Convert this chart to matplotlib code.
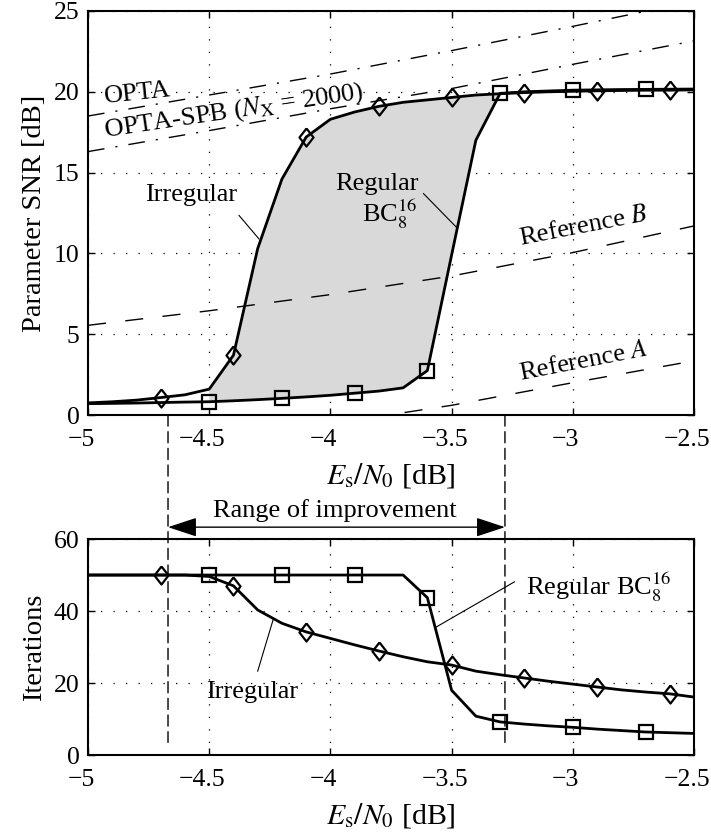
import matplotlib
matplotlib.use("Agg")
import matplotlib.pyplot as plt
import matplotlib.transforms as mtransforms
from matplotlib.patches import ConnectionPatch

plt.rcParams["font.family"] = ["Liberation Serif", "DejaVu Serif"]
plt.rcParams["mathtext.fontset"] = "stix"
plt.rcParams["axes.unicode_minus"] = True

# Es/N0 grid in dB (0.1 dB steps)
esn0 = [-5.0, -4.9, -4.8, -4.7, -4.6, -4.5, -4.4, -4.3, -4.2, -4.1, -4.0, -3.9, -3.8,
        -3.7, -3.6, -3.5, -3.4, -3.3, -3.2, -3.1, -3.0, -2.9, -2.8, -2.7, -2.6, -2.5]

# parameter SNR [dB]
snr_irregular = [0.75, 0.82, 0.92, 1.08, 1.25, 1.6, 3.7, 10.3, 14.6, 17.2, 18.3, 18.75, 19.1,
                 19.35, 19.5, 19.65, 19.8, 19.88, 19.95, 20.0, 20.03, 20.06, 20.08, 20.1, 20.1, 20.12]
snr_regular = [0.7, 0.72, 0.74, 0.77, 0.8, 0.82, 0.88, 0.95, 1.03, 1.12, 1.22, 1.35, 1.48,
               1.68, 2.75, 9.9, 17.0, 19.9, 20.0, 20.05, 20.1, 20.12, 20.14, 20.15, 20.16, 20.17]

# decoder iterations
it_irregular = [50, 50, 50, 50, 50, 49.6, 47, 40.3, 36.6, 34.2, 32.4, 30.6, 28.9,
                27.3, 25.9, 25.0, 23.3, 22.3, 21.4, 20.5, 19.7, 18.9, 18.1, 17.5, 17.0, 16.1]
it_regular = [50, 50, 50, 50, 50, 50, 50, 50, 50, 50, 50, 50, 50,
              50, 43.7, 18.0, 10.8, 9.2, 8.6, 8.1, 7.7, 7.2, 6.8, 6.4, 6.2, 6.0]

# theoretical bounds and references
bound_x = [-5.0, -4.5, -4.0, -3.5, -3.0, -2.5]
opta = [18.5, 19.8, 21.1, 22.55, 24.05, 25.6]
opta_spb = [16.3, 17.6, 18.95, 20.2, 21.7, 23.15]
ref_b = [5.55, 6.45, 7.45, 8.6, 10.05, 11.7]
ref_a_x = [-4.0, -3.5, -3.0, -2.5]
ref_a = [-0.55, 0.6, 2.0, 3.35]

xticks = [-5, -4.5, -4, -3.5, -3, -2.5]
xtick_labels = ["\u22125", "\u22124.5", "\u22124", "\u22123.5", "\u22123", "\u22122.5"]

# range where the irregular code beats the regular one
improve_lo, improve_hi = -4.67, -3.28

diamond = [(0, 1), (0.78, 0), (0, -1), (-0.78, 0), (0, 1)]
grid_style = dict(color="k", linestyle=(0, (1, 9)), linewidth=0.9)
LW = 2.0
FS_TXT = 19

fig = plt.figure(figsize=(7.11, 8.33), dpi=100)
ax1 = fig.add_axes([0.1238, 0.5018, 0.8523, 0.485])
ax2 = fig.add_axes([0.1238, 0.0936, 0.8523, 0.2593])

shift = mtransforms.ScaledTranslation(-0.07, 0, fig.dpi_scale_trans)


def style_axes(ax):
    ax.set_xlim(-5, -2.5)
    ax.set_xticks(xticks)
    ax.set_xticklabels(xtick_labels)
    ax.tick_params(axis="both", direction="in", top=True, right=True, length=5, width=1,
                   labelsize=18.5, pad=6)
    ax.tick_params(axis="x", pad=10)
    for lab in ax.get_xticklabels():
        lab.set_transform(lab.get_transform() + shift)
    for s in ax.spines.values():
        s.set_linewidth(1.5)
    ax.grid(True, **grid_style)
    ax.set_axisbelow(True)
    ax.set_xlabel(r"$E_\mathrm{s}/N_0$ [dB]", fontsize=21.5, labelpad=7)


# ---- top: parameter SNR
style_axes(ax1)
ax1.set_ylim(0, 25)
ax1.set_yticks([0, 5, 10, 15, 20, 25])
ax1.set_ylabel("Parameter SNR [dB]", fontsize=20.5, labelpad=5)

inside = [(-4.5 <= x <= -3.3) for x in esn0]
ax1.fill_between(esn0, snr_regular, snr_irregular, where=inside,
                 facecolor="#d9d9d9", edgecolor="none", zorder=1)

ax1.plot(bound_x, opta, color="k", lw=1.0, linestyle=(0, (12, 8, 1.5, 8)), zorder=2)
ax1.plot(bound_x, opta_spb, color="k", lw=1.0, linestyle=(0, (12, 8, 1.5, 8)), zorder=2)
ax1.plot(bound_x, ref_b, color="k", lw=1.0, linestyle=(0, (13, 14)), zorder=2)
ax1.plot(ref_a_x, ref_a, color="k", lw=1.0, linestyle=(0, (13, 14)), zorder=2)

ax1.plot(esn0, snr_irregular, color="k", lw=LW, marker=diamond, ms=13,
         mfc="none", mew=1.6, markevery=slice(3, None, 3), zorder=3)
ax1.plot(esn0, snr_regular, color="k", lw=LW, marker="s", ms=9.5,
         mfc="none", mew=1.6, markevery=slice(5, None, 3), zorder=3)

ax1.text(-4.93, 19.3, "OPTA", fontsize=FS_TXT, rotation=6, rotation_mode="anchor",
         ha="left", va="baseline")
ax1.text(-4.93, 17.2, r"OPTA-SPB ($N_\mathrm{X}$ = 2000)", fontsize=FS_TXT, rotation=8.5,
         rotation_mode="anchor", ha="left", va="baseline")
ax1.text(-4.574, 13.27, "Irregular", fontsize=FS_TXT, ha="center", va="baseline")
ax1.plot([-4.377, -4.295], [12.35, 10.9], color="k", lw=0.8)
ax1.text(-3.636, 13.9, "Regular", fontsize=FS_TXT, ha="right", va="baseline")
ax1.text(-3.64, 11.93, r"BC$_8^{16}$", fontsize=FS_TXT, ha="right", va="baseline")
ax1.plot([-3.616, -3.479], [13.7, 11.6], color="k", lw=0.8)
ax1.text(-3.215, 10.5, r"Reference $B$", fontsize=FS_TXT, rotation=11,
         rotation_mode="anchor", ha="left", va="baseline")
ax1.text(-3.215, 2.16, r"Reference $A$", fontsize=FS_TXT, rotation=11,
         rotation_mode="anchor", ha="left", va="baseline")

# ---- bottom: iterations
style_axes(ax2)
ax2.set_ylim(0, 60)
ax2.set_yticks([0, 20, 40, 60])
ax2.set_ylabel("Iterations", fontsize=20.5, labelpad=5)

ax2.plot(esn0, it_irregular, color="k", lw=LW, marker=diamond, ms=13,
         mfc="none", mew=1.6, markevery=slice(3, None, 3), zorder=3)
ax2.plot(esn0, it_regular, color="k", lw=LW, marker="s", ms=9.5,
         mfc="none", mew=1.6, markevery=slice(5, None, 3), zorder=3)

ax2.text(-3.194, 44.4, r"Regular BC$_8^{16}$", fontsize=FS_TXT, ha="left", va="baseline")
ax2.plot([-3.241, -3.565], [48.1, 35.5], color="k", lw=0.8)
ax2.text(-4.322, 15.8, "Irregular", fontsize=FS_TXT, ha="center", va="baseline")
ax2.plot([-4.30, -4.235], [23.3, 37.9], color="k", lw=0.8)

# range of improvement marker between the two panels
for xv in (improve_lo, improve_hi):
    con = ConnectionPatch(xyA=(xv, 0), coordsA=ax1.transData,
                          xyB=(xv, 3.5), coordsB=ax2.transData,
                          color="k", lw=1.0, linestyle=(0, (8, 4)))
    fig.add_artist(con)

ax2.annotate("", xy=(improve_hi, 63.3), xytext=(improve_lo, 63.3),
             arrowprops=dict(arrowstyle="<|-|>,head_length=1.0,head_width=0.33",
                             mutation_scale=18, color="k", lw=1.0,
                             shrinkA=0, shrinkB=0),
             annotation_clip=False)
ax2.text(-3.98, 66.1, "Range of improvement", fontsize=FS_TXT, ha="center",
         va="baseline", clip_on=False)

fig.savefig("out.png", dpi=100)
